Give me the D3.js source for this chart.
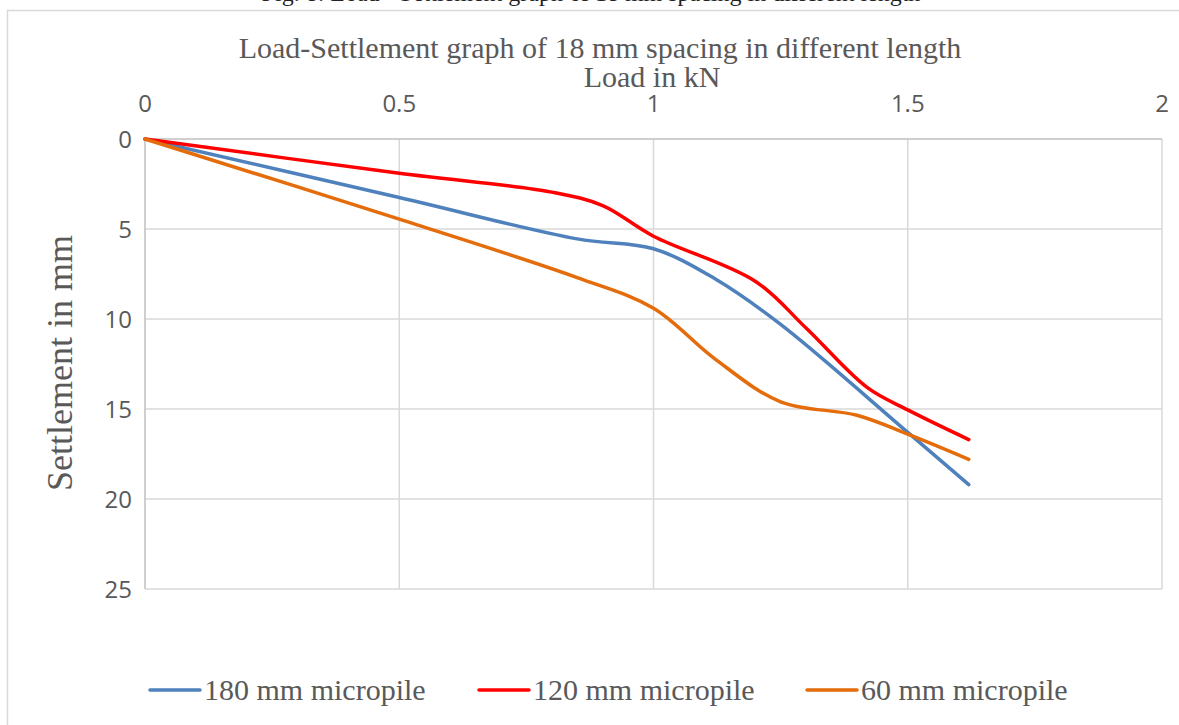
<!DOCTYPE html>
<html>
<head>
<meta charset="utf-8">
<script src="https://cdn.jsdelivr.net/npm/d3@7"></script>
<style>
  body { margin: 0; background: #fff; }
  svg { display: block; }
</style>
</head>
<body>
<svg id="chart" width="1179" height="725"></svg>
<script>
// loads (kN) and settlements (mm)
const load180 = [0, 0.5, 0.85, 1.0, 1.12, 1.25, 1.5, 1.62];
const settle180 = [0, 3.25, 5.55, 6.1, 7.75, 10.3, 16.3, 19.2];

const load120 = [0, 0.5, 0.8, 0.9, 1.0, 1.2, 1.3, 1.42, 1.5, 1.62];
const settle120 = [0, 1.9, 2.95, 3.7, 5.4, 7.9, 10.5, 13.8, 15.05, 16.7];

const load60 = [0, 0.5, 0.85, 1.0, 1.12, 1.25, 1.4, 1.5, 1.62];
const settle60 = [0, 4.45, 7.7, 9.4, 12.2, 14.6, 15.35, 16.4, 17.8];

const seriesNames = ["180 mm micropile", "120 mm micropile", "60 mm micropile"];
const seriesColors = ["#4f81bd", "#ff0000", "#e46c0a"];
const xTicks = [0, 0.5, 1, 1.5, 2];
const yTicks = [0, 5, 10, 15, 20, 25];

const chartTitle = "Load-Settlement graph of 18 mm spacing in different length";
const captionText = "Fig. 8: Load - Settlement graph of 18 mm spacing in different length";

function drawChart(holder){
	let svg = d3.select(holder);
	let margin = {"left": 145, "top": 139, "right": 1162, "bottom": 589};

	let xScale = d3.scaleLinear()
		.domain([0, 2])
		.range([margin.left, margin.right]);
	let yScale = d3.scaleLinear()
		.domain([0, 25])
		.range([margin.top, margin.bottom]);

	let serif = "'Liberation Serif', 'Times New Roman', serif";
	let tickFont = "'Open Sans', 'Liberation Sans', sans-serif";

	// cut-off caption of the page above the chart
	svg.append("text")
		.attr("x", 591)
		.attr("y", 1)
		.attr("text-anchor", "middle")
		.style("font-family", serif)
		.style("font-size", "24px")
		.attr("fill", "#222")
		.text(captionText);

	// chart area frame
	svg.append("rect")
		.attr("x", 7.5).attr("y", 10.5)
		.attr("width", 1250).attr("height", 800)
		.attr("fill", "#fff")
		.attr("stroke", "#d9d9d9")
		.attr("stroke-width", 1.5);

	let grid = svg.append("g");
	grid.selectAll("line.v")
		.data(xTicks.slice(1))
		.enter()
		.append("line")
		.attr("x1", d => xScale(d)).attr("x2", d => xScale(d))
		.attr("y1", margin.top).attr("y2", margin.bottom)
		.attr("stroke", "#d9d9d9").attr("stroke-width", 1.5);
	grid.selectAll("line.h")
		.data(yTicks.slice(1))
		.enter()
		.append("line")
		.attr("x1", margin.left).attr("x2", margin.right)
		.attr("y1", d => yScale(d)).attr("y2", d => yScale(d))
		.attr("stroke", "#d9d9d9").attr("stroke-width", 1.5);

	// axis lines (x axis sits on top)
	svg.append("line")
		.attr("x1", margin.left).attr("x2", margin.right)
		.attr("y1", yScale(0)).attr("y2", yScale(0))
		.attr("stroke", "#bfbfbf").attr("stroke-width", 1.5);
	svg.append("line")
		.attr("x1", xScale(0)).attr("x2", xScale(0))
		.attr("y1", margin.top).attr("y2", margin.bottom)
		.attr("stroke", "#bfbfbf").attr("stroke-width", 1.5);

	svg.append("g").selectAll("text")
		.data(xTicks)
		.enter()
		.append("text")
		.attr("x", d => xScale(d))
		.attr("y", 112)
		.attr("text-anchor", "middle")
		.style("font-family", tickFont)
		.style("font-size", "24px")
		.attr("fill", "#595959")
		.text(d => d);

	svg.append("g").selectAll("text")
		.data(yTicks)
		.enter()
		.append("text")
		.attr("x", 132)
		.attr("y", d => yScale(d) + 9)
		.attr("text-anchor", "end")
		.style("font-family", tickFont)
		.style("font-size", "24px")
		.attr("fill", "#595959")
		.text(d => d);

	svg.append("text")
		.attr("x", 600)
		.attr("y", 58)
		.attr("text-anchor", "middle")
		.style("font-family", serif)
		.style("font-size", "30px")
		.attr("fill", "#595959")
		.text(chartTitle);

	svg.append("text")
		.attr("x", 652)
		.attr("y", 87)
		.attr("text-anchor", "middle")
		.style("font-family", serif)
		.style("font-size", "30px")
		.attr("fill", "#595959")
		.text("Load in kN");

	svg.append("text")
		.attr("transform", "translate(72," + ((margin.top + margin.bottom) / 2 - 1) + ") rotate(-90)")
		.attr("text-anchor", "middle")
		.style("font-family", serif)
		.style("font-size", "36px")
		.attr("fill", "#595959")
		.text("Settlement in mm");

	const line = d3.line()
		.x(d => xScale(d[0]))
		.y(d => yScale(d[1]))
		.curve(d3.curveCatmullRom.alpha(0.5));

	let data = [
		d3.zip(load180, settle180),
		d3.zip(load120, settle120),
		d3.zip(load60, settle60)
	];

	svg.append("g")
		.attr("fill", "none")
		.attr("stroke-linejoin", "round")
		.attr("stroke-linecap", "round")
		.selectAll("path")
		.data(data)
		.enter()
		.append("path")
		.attr("stroke", (d, i) => seriesColors[i])
		.attr("stroke-width", 3.5)
		.attr("d", d => line(d));

	// legend
	let legendX = [150, 479, 807];
	let legend = svg.append("g").selectAll("g")
		.data(seriesNames)
		.enter()
		.append("g")
		.attr("transform", (d, i) => "translate(" + legendX[i] + ",690)");
	legend.append("line")
		.attr("x1", 0).attr("x2", 50)
		.attr("y1", 0).attr("y2", 0)
		.attr("stroke", (d, i) => seriesColors[i])
		.attr("stroke-width", 3.5)
		.attr("stroke-linecap", "round");
	legend.append("text")
		.attr("x", 54)
		.attr("y", 10)
		.style("font-family", serif)
		.style("font-size", "30px")
		.attr("fill", "#595959")
		.text(d => d);
}

drawChart("#chart");
</script>
</body>
</html>
